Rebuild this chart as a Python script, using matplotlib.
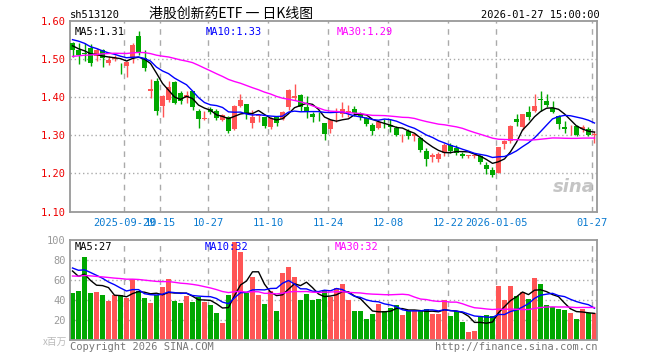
import matplotlib
matplotlib.use('Agg')
import matplotlib.pyplot as plt
import numpy as np
import pandas as pd

# earlier sessions (off screen), only used so the moving averages start at the right level
prev_close = [1.46, 1.47, 1.47, 1.48, 1.46, 1.47, 1.48, 1.49, 1.50, 1.49,
              1.48, 1.49, 1.50, 1.49, 1.48, 1.49, 1.50, 1.51, 1.50, 1.49,
              1.55, 1.57, 1.58, 1.57, 1.565, 1.55, 1.54, 1.53, 1.532]
prev_vol = [55, 62, 58, 64, 60, 57, 63, 59, 61, 60, 58, 62, 56, 64, 60, 59, 61, 63, 58, 60,
            72, 78, 74, 76, 75, 76, 72, 78, 72]

opens = [1.542, 1.523, 1.516, 1.529, 1.507, 1.523, 1.491, 1.500, 1.480, 1.481,
         1.504, 1.561, 1.503, 1.415, 1.443, 1.377, 1.393, 1.439, 1.412, 1.399,
         1.415, 1.365, 1.344, 1.370, 1.364, 1.340, 1.349, 1.316, 1.377, 1.382,
         1.333, 1.350, 1.347, 1.323, 1.347, 1.342, 1.374, 1.397, 1.406, 1.375,
         1.356, 1.354, 1.333, 1.316, 1.339, 1.356, 1.362, 1.368, 1.356, 1.345,
         1.327, 1.318, 1.336, 1.326, 1.318, 1.300, 1.310, 1.299, 1.292, 1.260,
         1.244, 1.239, 1.254, 1.275, 1.266, 1.251, 1.246, 1.246, 1.246, 1.222,
         1.209, 1.200, 1.277, 1.285, 1.344, 1.323, 1.362, 1.365, 1.396, 1.391,
         1.371, 1.351, 1.323, 1.313, 1.325, 1.316, 1.316, 1.301]
highs = [1.545, 1.542, 1.542, 1.540, 1.529, 1.526, 1.507, 1.510, 1.489, 1.494,
         1.542, 1.575, 1.525, 1.447, 1.450, 1.405, 1.443, 1.443, 1.415, 1.415,
         1.417, 1.368, 1.365, 1.373, 1.370, 1.355, 1.351, 1.380, 1.409, 1.382,
         1.367, 1.353, 1.349, 1.349, 1.351, 1.365, 1.421, 1.435, 1.409, 1.403,
         1.362, 1.362, 1.333, 1.341, 1.371, 1.388, 1.380, 1.377, 1.362, 1.347,
         1.331, 1.335, 1.344, 1.344, 1.324, 1.304, 1.316, 1.306, 1.295, 1.266,
         1.253, 1.257, 1.280, 1.280, 1.275, 1.257, 1.248, 1.251, 1.249, 1.229,
         1.216, 1.269, 1.287, 1.327, 1.356, 1.356, 1.377, 1.409, 1.415, 1.409,
         1.389, 1.354, 1.337, 1.327, 1.327, 1.327, 1.321, 1.310]
lows = [1.505, 1.487, 1.494, 1.481, 1.494, 1.479, 1.485, 1.495, 1.461, 1.454,
        1.489, 1.510, 1.468, 1.397, 1.352, 1.347, 1.387, 1.382, 1.382, 1.386,
        1.367, 1.320, 1.340, 1.357, 1.339, 1.337, 1.305, 1.314, 1.374, 1.342,
        1.318, 1.336, 1.319, 1.316, 1.325, 1.340, 1.367, 1.393, 1.365, 1.345,
        1.336, 1.338, 1.288, 1.307, 1.336, 1.347, 1.347, 1.351, 1.340, 1.325,
        1.301, 1.316, 1.318, 1.309, 1.298, 1.283, 1.290, 1.284, 1.257, 1.219,
        1.231, 1.231, 1.246, 1.253, 1.248, 1.240, 1.240, 1.240, 1.225, 1.199,
        1.191, 1.200, 1.265, 1.280, 1.325, 1.313, 1.340, 1.362, 1.365, 1.374,
        1.358, 1.316, 1.305, 1.301, 1.299, 1.309, 1.297, 1.281]
closes = [1.523, 1.511, 1.513, 1.491, 1.523, 1.503, 1.498, 1.503, 1.479, 1.492,
          1.536, 1.516, 1.476, 1.422, 1.365, 1.402, 1.428, 1.386, 1.390, 1.406,
          1.373, 1.342, 1.346, 1.362, 1.345, 1.353, 1.312, 1.377, 1.393, 1.356,
          1.347, 1.352, 1.325, 1.345, 1.333, 1.362, 1.418, 1.404, 1.375, 1.360,
          1.349, 1.352, 1.304, 1.339, 1.341, 1.368, 1.364, 1.358, 1.347, 1.330,
          1.310, 1.335, 1.334, 1.323, 1.301, 1.302, 1.297, 1.304, 1.261, 1.239,
          1.247, 1.251, 1.275, 1.260, 1.254, 1.246, 1.247, 1.247, 1.231, 1.211,
          1.196, 1.268, 1.284, 1.325, 1.336, 1.356, 1.349, 1.377, 1.393, 1.380,
          1.362, 1.329, 1.316, 1.315, 1.301, 1.321, 1.301, 1.304]
volumes = [47, 49, 83, 47, 48, 45, 39, 45, 45, 42, 61, 49, 42, 37, 45, 53, 61, 39, 37, 44,
           38, 43, 38, 35, 27, 17, 45, 98, 88, 47, 63, 45, 36, 49, 29, 67, 73, 63, 40, 46,
           40, 41, 50, 43, 52, 56, 40, 29, 29, 21, 26, 36, 29, 32, 35, 25, 29, 29, 29, 31,
           26, 26, 40, 24, 29, 18, 8, 9, 24, 25, 24, 54, 40, 54, 44, 48, 41, 62, 56, 35,
           33, 31, 30, 27, 21, 31, 27, 27]

tick_pos = [9, 15, 23, 33, 43, 53, 63, 71, 87]
tick_labels = ['2025-09-29', '10-15', '10-27', '11-10', '11-24', '12-08',
               '12-22', '2026-01-05', '01-27']

RED = '#ff5555'
GREEN = '#00a800'
MONO = 'DejaVu Sans Mono'
CJK = ['Noto Sans CJK SC', 'DejaVu Sans']

o = np.array(opens)
h = np.array(highs)
l = np.array(lows)
c = np.array(closes)
v = np.array(volumes)
n = len(c)
x = np.arange(n)
colors = np.where(c >= o, RED, GREEN)

all_c = pd.Series(prev_close + closes)
all_v = pd.Series(prev_vol + volumes)
ma = {k: all_c.rolling(k).mean().values[-n:] for k in (5, 10, 30)}
vma = {k: all_v.rolling(k).mean().values[-n:] for k in (5, 10, 30)}
ma_col = {5: 'black', 10: '#0000ff', 30: '#ff00ff'}

W, H = 660, 360
fig = plt.figure(figsize=(6.6, 3.6), dpi=100)
ax = fig.add_axes([70 / W, 1 - 211.5 / H, 527 / W, 190.5 / H])
axv = fig.add_axes([70 / W, 1 - 340 / H, 527 / W, 100 / H])

xlim = (-2.5 / 6, (527 - 2.5) / 6)

for a in (ax, axv):
    a.set_xlim(*xlim)
    for s in a.spines.values():
        s.set_color('#999999')
        s.set_linewidth(1.3)
    for t in tick_pos:
        a.axvline(t - 0.4, color='#aaaaaa', lw=1, ls=(0, (4, 4)), zorder=0)
    a.tick_params(length=0)

# price panel
ax.set_ylim(1.10, 1.60)
for yv in [1.2, 1.3, 1.4, 1.5]:
    ax.axhline(yv, color='#aaaaaa', lw=1, ls=(0, (1, 2)), zorder=0)
ax.vlines(x, l, h, colors=colors, lw=1, zorder=2)
ax.bar(x, np.maximum(np.abs(c - o), 0.0015), bottom=np.minimum(o, c),
       width=0.8, color=colors, linewidth=0, zorder=3)
for k in (5, 10, 30):
    ax.plot(x, ma[k], color=ma_col[k], lw=1, zorder=4)
ax.set_yticks([1.1, 1.2, 1.3, 1.4, 1.5, 1.6])
ax.set_yticklabels(['%.2f' % t for t in [1.1, 1.2, 1.3, 1.4, 1.5, 1.6]],
                   color='#ee0000', fontfamily=MONO, fontsize=7.5)
ax.set_xticks([t - 0.4 for t in tick_pos])
ax.set_xticklabels(tick_labels, color='#0a7ad0', fontfamily=MONO, fontsize=7.5)
ax.tick_params(axis='x', pad=5)
ax.tick_params(axis='y', pad=3)

ax.text(5 / 527, 1 - 11 / 190.5, 'MA5:%.2f' % ma[5][-1], transform=ax.transAxes,
        fontfamily=MONO, fontsize=7.5, color='black', va='center')
ax.text(136 / 527, 1 - 11 / 190.5, 'MA10:%.2f' % ma[10][-1], transform=ax.transAxes,
        fontfamily=MONO, fontsize=7.5, color='#0000ff', va='center')
ax.text(267 / 527, 1 - 11 / 190.5, 'MA30:%.2f' % ma[30][-1], transform=ax.transAxes,
        fontfamily=MONO, fontsize=7.5, color='#ff00ff', va='center')
ax.text(0.995, 0.08, 'sina', transform=ax.transAxes, ha='right', va='bottom',
        fontsize=13, fontstyle='italic', fontweight='bold', color='#bbbbbb', alpha=0.85)

# volume panel
axv.set_ylim(0, 100)
for yv in [20, 40, 60, 80]:
    axv.axhline(yv, color='#aaaaaa', lw=1, ls=(0, (1, 2)), zorder=0)
axv.bar(x, v, width=0.8, color=colors, linewidth=0, zorder=2)
for k in (5, 10, 30):
    axv.plot(x, vma[k], color=ma_col[k], lw=1, zorder=4)
axv.set_xticks([])
axv.set_yticks([20, 40, 60, 80, 100])
axv.set_yticklabels(['20', '40', '60', '80', '100'], color='#999999',
                    fontfamily=MONO, fontsize=7.5)
axv.tick_params(axis='y', pad=3)
axv.text(5 / 527, 1 - 7 / 100, 'MA5:%.0f' % vma[5][-1], transform=axv.transAxes,
         fontfamily=MONO, fontsize=7.5, color='black', va='center')
axv.text(135 / 527, 1 - 7 / 100, 'MA10:%.0f' % vma[10][-1], transform=axv.transAxes,
         fontfamily=MONO, fontsize=7.5, color='#0000ff', va='center')
axv.text(265 / 527, 1 - 7 / 100, 'MA30:%.0f' % vma[30][-1], transform=axv.transAxes,
         fontfamily=MONO, fontsize=7.5, color='#ff00ff', va='center')

# header and footer
fig.text(70 / W, 1 - 15 / H, 'sh513120', fontfamily=MONO, fontsize=7.5, va='center')
fig.text(231 / W, 1 - 14 / H, '港股创新药ETF 一 日K线图', family=CJK, fontsize=10,
         ha='center', va='center')
fig.text(600 / W, 1 - 15 / H, '2026-01-27 15:00:00', fontfamily=MONO, fontsize=7.5,
         ha='right', va='center')
fig.text(67 / W, 1 - 342 / H, 'x百万', family=CJK, fontsize=7, color='#bbbbbb',
         ha='right', va='center')
fig.text(70 / W, 1 - 347 / H, 'Copyright 2026 SINA.COM', fontfamily=MONO, fontsize=7.5,
         color='#777777', va='center')
fig.text(597 / W, 1 - 347 / H, 'http://finance.sina.com.cn', fontfamily=MONO, fontsize=7.5,
         color='#777777', ha='right', va='center')

fig.savefig('out.png', dpi=100, facecolor='white')
